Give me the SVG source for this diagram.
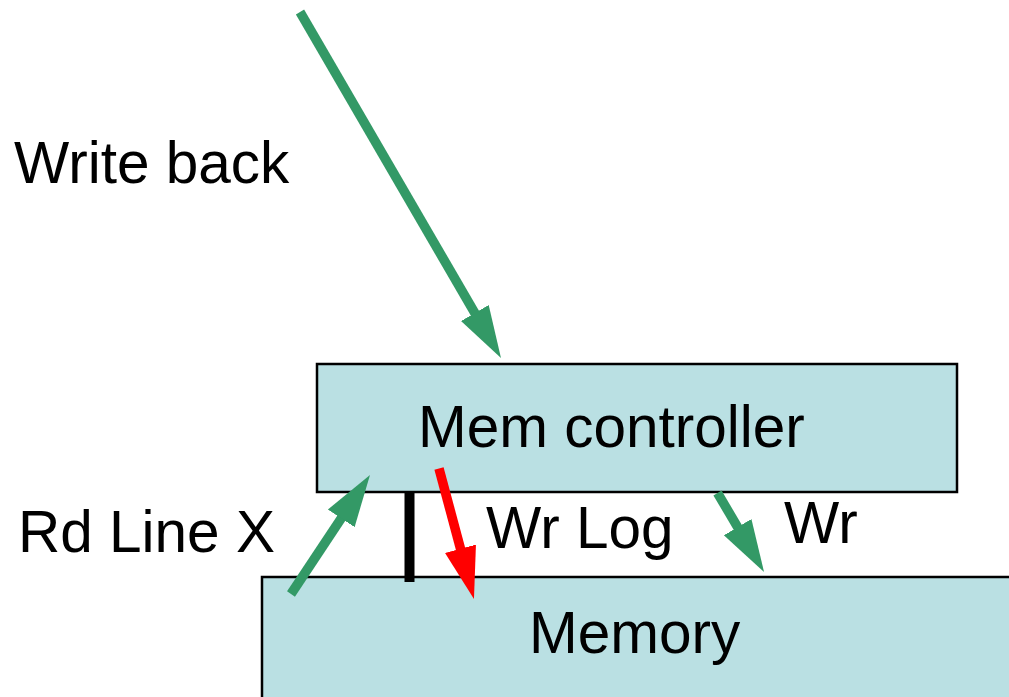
<svg xmlns="http://www.w3.org/2000/svg" width="1009" height="697" viewBox="0 0 1009 697">
<style>
.box{fill:#BAE0E3;stroke:#000;stroke-width:2.5}
.t{font-family:"Liberation Sans",Arial,sans-serif;font-size:58.5px;fill:#000}
.g{stroke:#339966;stroke-width:9.5;fill:none}
.r{stroke:#FF0000;stroke-width:9.5;fill:none}
</style>
<defs>
<marker id="hg" markerUnits="userSpaceOnUse" markerWidth="52" markerHeight="34" viewBox="0 0 52 34" refX="22" refY="17" orient="auto"><path d="M0,1 L52,17 L0,33 Z" fill="#339966"/></marker>
<marker id="hr" markerUnits="userSpaceOnUse" markerWidth="52" markerHeight="34" viewBox="0 0 52 34" refX="22" refY="17" orient="auto"><path d="M0,1 L52,17 L0,33 Z" fill="#FF0000"/></marker>
</defs>
<g id="memctrl"><rect class="box" x="317" y="364" width="640" height="128"/><text class="t" x="418" y="447">Mem controller</text></g>
<g id="memory"><rect class="box" x="262" y="577" width="760" height="130"/><text class="t" x="529" y="653">Memory</text></g>
<g id="labels">
<text class="t" x="14" y="183">Write back</text>
<text class="t" x="18" y="552">Rd Line X</text>
<text class="t" x="486" y="548">Wr Log</text>
<text class="t" x="784" y="543">Wr</text>
</g>
<g id="connectors">
<line class="g" x1="300" y1="12" x2="485.9" y2="332.1" marker-end="url(#hg)"/>
<line class="g" x1="291" y1="594" x2="353.4" y2="500" marker-end="url(#hg)"/>
<line class="r" x1="439" y1="468.5" x2="466.2" y2="570" marker-end="url(#hr)"/>
<line class="g" x1="717.5" y1="493" x2="748.8" y2="546.1" marker-end="url(#hg)"/>
<rect x="404.5" y="492" width="10" height="90" fill="#000"/>
</g>
</svg>
